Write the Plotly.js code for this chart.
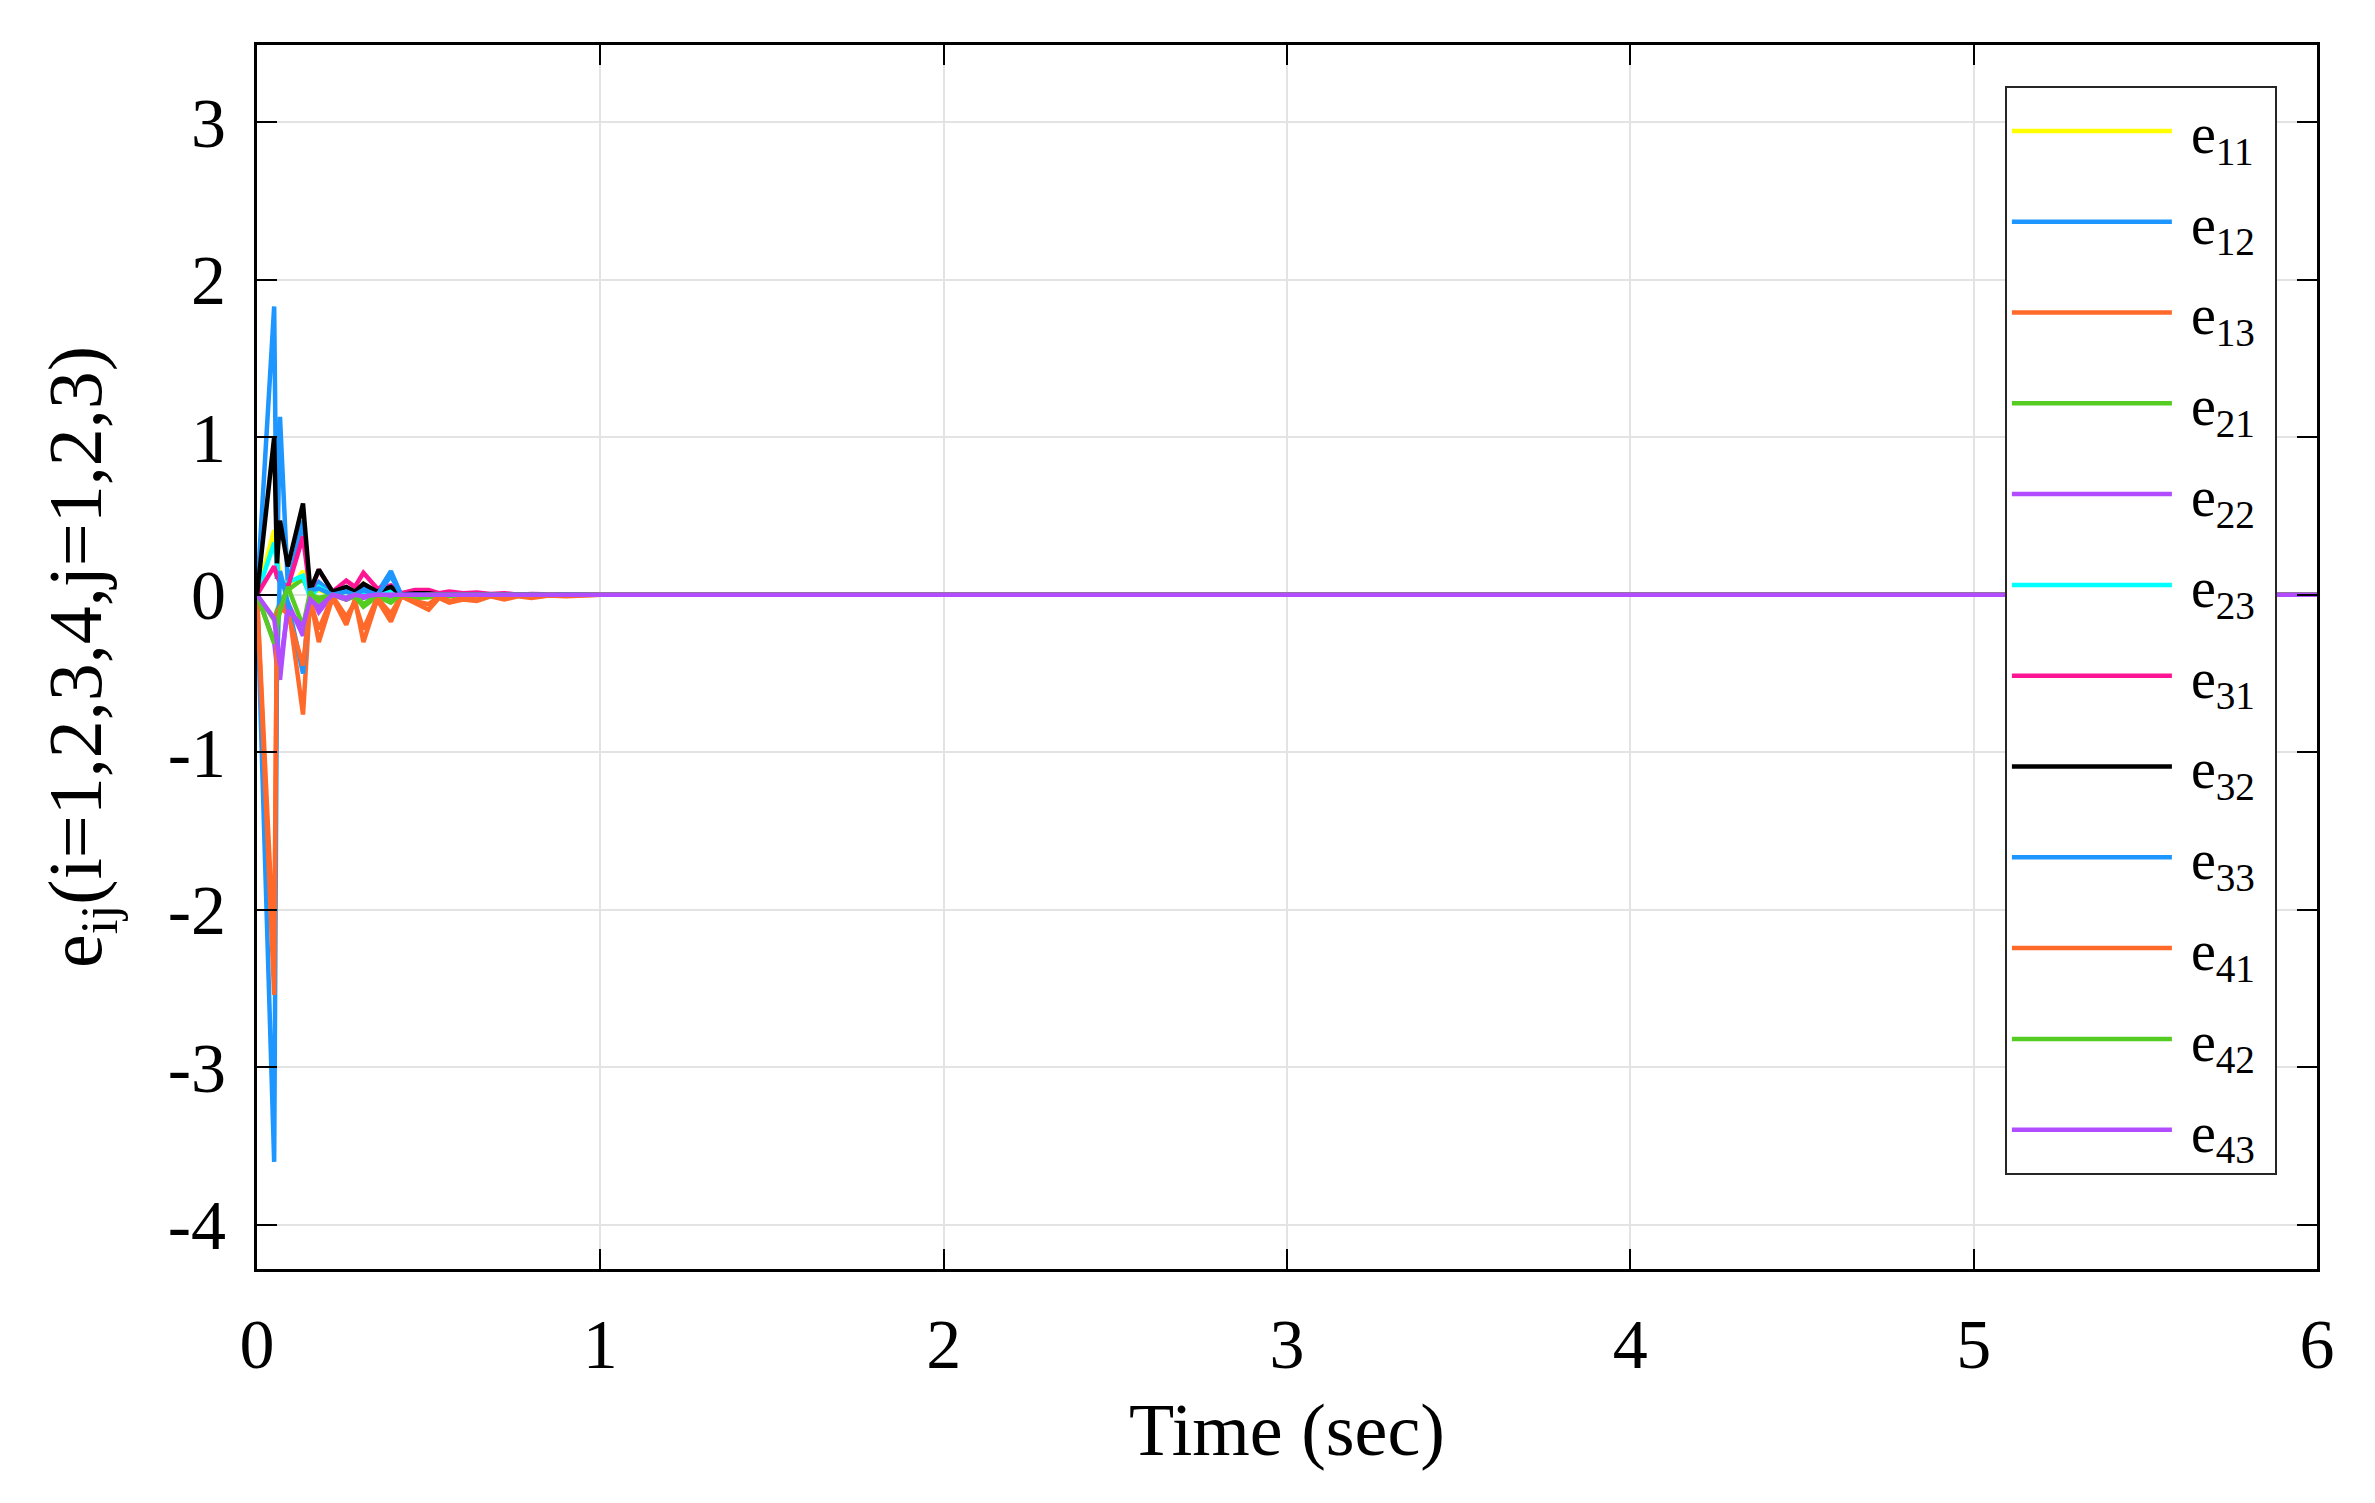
<!DOCTYPE html>
<html>
<head>
<meta charset="utf-8">
<script src="https://cdn.plot.ly/plotly-3.0.1.min.js"></script>
<style>html,body{margin:0;padding:0;background:#fff;}#chart{width:2375px;height:1503px;}</style>
</head>
<body>
<div id="chart"></div>
<script>
// Time samples (sec)
const time = [0, 0.05, 0.058, 0.067, 0.09, 0.134, 0.155, 0.18, 0.22, 0.26, 0.285, 0.31, 0.35, 0.39, 0.42, 0.46, 0.5, 0.53, 0.56, 0.6, 0.64, 0.68, 0.72, 0.76, 0.8, 0.85, 0.9, 1.0, 1.2, 6];

// Series values
const e11 = [0, 0.41, 0.25, 0.12, 0.02, 0.15, 0.01, 0.03, 0, 0.02, 0.01, 0.07, 0.01, 0.03, 0, 0.01, 0.01, 0, 0, 0, 0, 0, 0, 0, 0, 0, 0, 0, 0, 0];
const e12 = [0, 1.83, 0.10, 1.13, 0.05, 0.47, 0.02, 0.08, 0.01, 0.04, 0.01, 0.05, 0.01, 0.15, 0, 0.01, 0.01, 0, 0.005, 0, 0, 0, 0, 0, 0, 0, 0, 0, 0, 0];
const e13 = [0, -2.30, -0.15, -0.11, -0.05, -0.76, -0.02, -0.30, -0.02, -0.19, -0.03, -0.30, -0.03, -0.17, -0.01, -0.05, -0.095, -0.02, -0.05, -0.03, -0.04, -0.01, -0.03, -0.01, -0.02, -0.005, -0.01, 0, 0, 0];
const e21 = [0, -0.16, -0.10, -0.05, 0.03, 0.10, 0, -0.02, 0, -0.03, -0.01, -0.075, -0.01, -0.05, 0, -0.02, -0.015, -0.005, -0.01, 0, 0, 0, 0, 0, 0, 0, 0, 0, 0, 0];
const e22 = [0, -0.30, -0.45, -0.54, -0.05, -0.26, 0, -0.11, 0, -0.03, 0, -0.02, 0, -0.01, 0, 0, 0, 0, 0, 0, 0, 0, 0, 0, 0, 0, 0, 0, 0, 0];
const e23 = [0, 0.33, 0.20, 0.05, 0.08, 0.12, -0.02, 0.05, 0, 0.02, 0, 0.02, 0, 0.03, 0, 0, 0, 0, 0, 0, 0, 0, 0, 0, 0, 0, 0, 0, 0, 0];
const e31 = [0, 0.18, 0.12, 0.08, 0.05, 0.37, 0.01, 0.16, 0.02, 0.09, 0.05, 0.14, 0.04, 0.06, 0.01, 0.03, 0.03, 0.01, 0.02, 0.01, 0.015, 0.005, 0.01, 0, 0.005, 0, 0, 0, 0, 0];
const e32 = [0, 1.00, 0.20, 0.47, 0.18, 0.58, 0.03, 0.16, 0.02, 0.05, 0.02, 0.07, 0.02, 0.05, 0, 0.01, 0.01, 0, 0, 0, 0, 0, 0, 0, 0, 0, 0, 0, 0, 0];
const e33 = [0, -3.60, -0.50, 0.15, -0.05, -0.50, 0.03, 0.04, 0, 0.02, 0, 0.03, 0, 0.12, 0, 0, 0, 0, 0, 0, 0, 0, 0, 0, 0, 0, 0, 0, 0, 0];
const e41 = [0, -2.54, -0.12, -0.08, -0.12, -0.45, -0.04, -0.22, -0.01, -0.14, -0.05, -0.22, -0.02, -0.12, -0.01, -0.04, -0.06, -0.01, -0.04, -0.02, -0.03, -0.01, -0.02, -0.005, -0.01, 0, -0.005, 0, 0, 0];
const e42 = [0, -0.31, -0.20, -0.10, 0.05, -0.20, 0.02, -0.05, 0, -0.02, 0, -0.06, 0, -0.04, 0, -0.01, 0, 0, 0, 0, 0, 0, 0, 0, 0, 0, 0, 0, 0, 0];
const e43 = [0, -0.15, -0.30, -0.45, -0.10, -0.20, -0.03, -0.08, 0, -0.02, 0, -0.01, 0, 0, 0, 0, 0, 0, 0, 0, 0, 0, 0, 0, 0, 0, 0, 0, 0, 0];

const seriesNames = ['e<sub>11</sub>','e<sub>12</sub>','e<sub>13</sub>','e<sub>21</sub>','e<sub>22</sub>','e<sub>23</sub>','e<sub>31</sub>','e<sub>32</sub>','e<sub>33</sub>','e<sub>41</sub>','e<sub>42</sub>','e<sub>43</sub>'];
const seriesColors = ['#FFFF00','#1E96FF','#FF6A2B','#55CC22','#B24CFF','#00FFFF','#FF1493','#000000','#1E96FF','#FF6A2B','#55CC22','#B24CFF'];
const seriesValues = [e11,e12,e13,e21,e22,e23,e31,e32,e33,e41,e42,e43];

const xTicks = [0,1,2,3,4,5,6];
const yTicks = [-4,-3,-2,-1,0,1,2,3];

const FONT = 'Liberation Serif, Times New Roman, serif';

const traces = seriesValues.map((v, i) => ({
  x: time, y: v, type: 'scatter', mode: 'lines',
  name: '\u00A0' + seriesNames[i] + '\u00A0', legendgroup: 'g' + i,
  line: {color: seriesColors[i], width: 4.5}
}));

const layout = {
  width: 2375, height: 1503,
  paper_bgcolor: '#ffffff', plot_bgcolor: '#ffffff',
  margin: {l: 257, r: 58, t: 45, b: 234, pad: 0},
  font: {family: FONT, size: 70, color: '#000'},
  showlegend: true,
  legend: {
    x: 0.8485, y: 0.9665, xanchor: 'left', yanchor: 'top',
    bgcolor: '#ffffff', bordercolor: '#262626', borderwidth: 2,
    font: {family: FONT, size: 56, color: '#000'},
    itemwidth: 160, tracegroupgap: 15
  },
  xaxis: {
    range: [0, 6], tickvals: xTicks, ticktext: xTicks.map(String),
    showgrid: true, gridcolor: '#e3e3e3', gridwidth: 2,
    zeroline: false, showline: true, linecolor: '#000', linewidth: 3, mirror: 'ticks',
    ticks: 'inside', ticklen: 20, tickwidth: 2, tickcolor: '#000',
    ticklabelstandoff: 12,
    tickfont: {family: FONT, size: 70, color: '#000'},
    title: {text: 'Time (sec)', font: {family: FONT, size: 74, color: '#000'}, standoff: 22}
  },
  yaxis: {
    range: [-4.28, 3.49], tickvals: yTicks, ticktext: yTicks.map(String),
    showgrid: true, gridcolor: '#e3e3e3', gridwidth: 2,
    zeroline: false, showline: true, linecolor: '#000', linewidth: 3, mirror: 'ticks',
    ticks: 'inside', ticklen: 20, tickwidth: 2, tickcolor: '#000',
    ticklabelstandoff: 14,
    tickfont: {family: FONT, size: 70, color: '#000'},
    title: {text: 'e<sub>ij</sub>(i=1,2,3,4,j=1,2,3)', font: {family: FONT, size: 76, color: '#000'}, standoff: 42}
  }
};

Plotly.newPlot('chart', traces, layout, {displayModeBar: false, staticPlot: true});
</script>
</body>
</html>
